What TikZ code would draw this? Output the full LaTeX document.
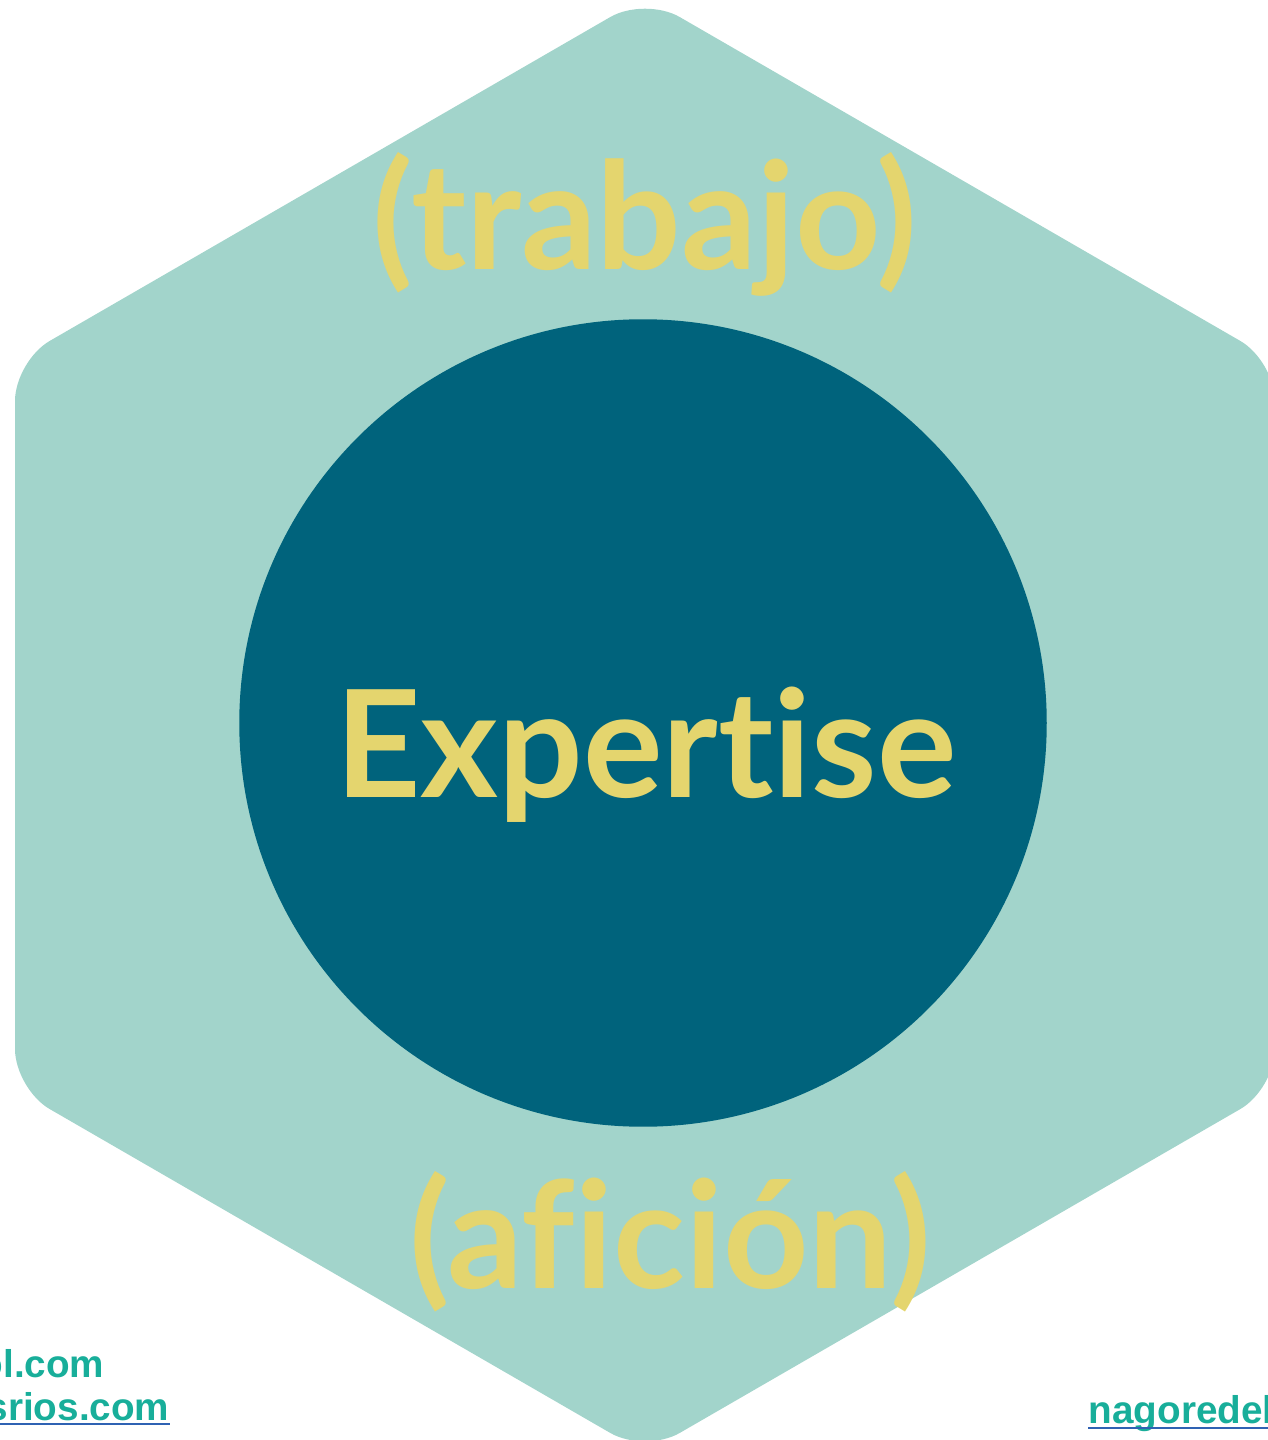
\documentclass[tikz,border=0pt]{standalone}
\usepackage{fontspec}
\setmainfont{Liberation Sans}
\newfontfamily\lato[Ligatures=NoCommon]{Lato}
\usetikzlibrary{positioning}
\definecolor{hexfill}{HTML}{A2D4CB}
\definecolor{corefill}{HTML}{00637C}
\definecolor{gold}{HTML}{E4D56E}
\definecolor{linkteal}{HTML}{18AE9A}
\definecolor{linkblue}{HTML}{2F62B3}

\begin{document}
\begin{tikzpicture}[x=0.01cm, y=-0.01cm,
  big/.style={font=\lato\bfseries\fontsize{42.4}{42.4}\selectfont, text=gold, inner sep=0pt, anchor=base},
  link/.style={font=\bfseries\fontsize{11}{11}\selectfont, text=linkteal, inner sep=0pt, anchor=base east}]
  \useasboundingbox (0,0) rectangle (1268,1440);
  % hexagon and core
  \fill[hexfill, rounded corners=0.4cm]
    (15,725) -- (15,361) -- (645,-3) -- (1275,361) -- (1275,1089) -- (645,1453) -- (15,1089) -- cycle;
  \node[circle, fill=corefill, minimum size=8.07cm, inner sep=0pt] (core) at (643,723) {};
  \node[big] (expert) at (646,797) {Expertise};
  \node[big] (work)   at (645,270) {(trabajo)};
  \node[big] (hobby)  at (670,1288) {(afición)};
  % links
  \node[link] (mail) at (105,1377) {ol.com};
  \node[link] (web)  at (170,1420) {srios.com};
  \node[link, anchor=base west] (site) at (1088,1423) {nagoredel};
  \draw[linkblue, line width=0.02cm]
    ([yshift=-0.035cm]web.base west) -- ([yshift=-0.035cm]web.base east)
    ([yshift=-0.05cm]site.base west) -- ([yshift=-0.05cm]site.base east);
\end{tikzpicture}
\end{document}
